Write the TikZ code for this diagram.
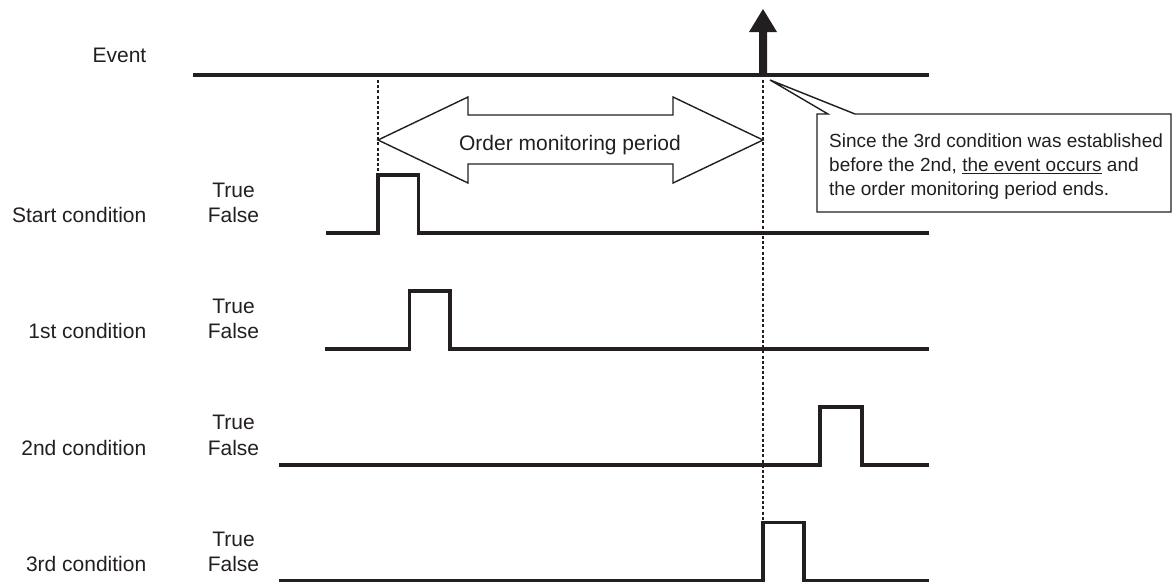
\documentclass[tikz,border=0pt]{standalone}
\usepackage{fontspec}
\setmainfont{Liberation Sans}
\definecolor{ink}{RGB}{35,31,32}
\newcommand\ulin[1]{\setbox0\hbox{#1}\rlap{\rule[-3pt]{\wd0}{1.3pt}}\box0\relax}
\begin{document}
\begin{tikzpicture}[x=1pt,y=-1pt,
  lbl/.style={inner sep=0pt, text=ink, font=\fontsize{21}{25}\selectfont},
  note/.style={inner sep=0pt, text=ink, font=\fontsize{19}{24}\selectfont},
  sig/.style={draw=ink, line width=3.5pt, line join=miter},
  guide/.style={draw=ink, line width=1.6pt, dash pattern=on 3pt off 2.2pt},
  outline/.style={draw=ink, line width=1.4pt, fill=white, line join=miter}]
\useasboundingbox (0,0) rectangle (1175,582);

% guide lines
\draw[guide] (378,80) -- (378,175);
\draw[guide] (763,80) -- (763,522.5);

% event line and arrow
\draw[sig] (193,75) -- (929,75);
\fill[ink] (759,75) -- (759,32) -- (749,32) -- (763,9) -- (777,32) -- (767,32) -- (767,75) -- cycle;
\node[lbl, anchor=base east] (ev) at (146.5,62) {Event};

% order monitoring period double arrow
\draw[outline] (378,140) -- (468,97) -- (468,115) -- (673,115) -- (673,97) -- (763,140)
  -- (673,183) -- (673,164) -- (468,164) -- (468,183) -- cycle;
\node[lbl, anchor=base] (omp) at (570,150) {Order monitoring period};

% callout
\draw[outline] (817,114) -- (828,114) -- (770,80) -- (855,114) -- (1171,114)
  -- (1171,212) -- (817,212) -- cycle;
\node[note, anchor=base west] (c1) at (829,147) {Since the 3rd condition was established};
\node[note, anchor=base west] (c2) at (829,171) {before the 2nd, \ulin{the event occurs} and};
\node[note, anchor=base west] (c3) at (829,195) {the order monitoring period ends.};

% Start condition
\node[lbl, anchor=base east] (sc) at (146.5,222) {Start condition};
\node[lbl, anchor=base] (sT) at (233.5,197) {True};
\node[lbl, anchor=base] (sF) at (233.5,222) {False};
\draw[sig] (326,233) -- (378,233) -- (378,175) -- (418.5,175) -- (418.5,233) -- (929,233);

% 1st condition
\node[lbl, anchor=base east] (c1c) at (146.5,338) {1st condition};
\node[lbl, anchor=base] (oT) at (233.5,313) {True};
\node[lbl, anchor=base] (oF) at (233.5,338) {False};
\draw[sig] (325,349) -- (409.5,349) -- (409.5,291) -- (450,291) -- (450,349) -- (929,349);

% 2nd condition
\node[lbl, anchor=base east] (c2c) at (146.5,455) {2nd condition};
\node[lbl, anchor=base] (tT) at (233.5,429) {True};
\node[lbl, anchor=base] (tF) at (233.5,455) {False};
\draw[sig] (279,465) -- (820,465) -- (820,407) -- (862,407) -- (862,465) -- (929,465);

% 3rd condition
\node[lbl, anchor=base east] (c3c) at (146.5,571) {3rd condition};
\node[lbl, anchor=base] (hT) at (233.5,546) {True};
\node[lbl, anchor=base] (hF) at (233.5,571) {False};
\draw[sig] (279,580.5) -- (763,580.5) -- (763,522.5) -- (804,522.5) -- (804,580.5) -- (929,580.5);
\end{tikzpicture}
\end{document}
